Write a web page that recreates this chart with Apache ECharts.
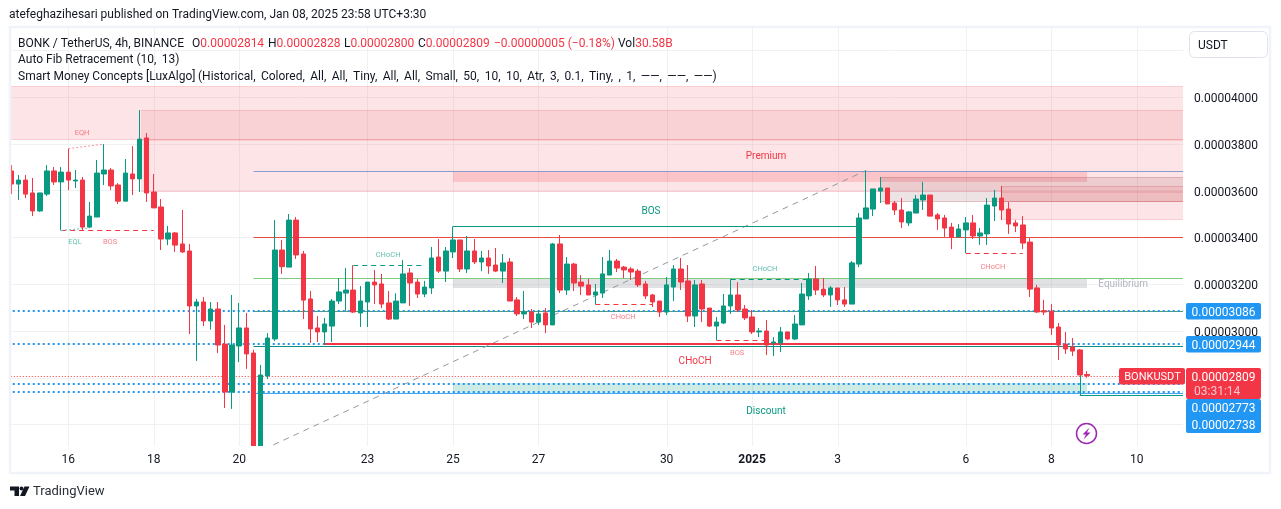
<!DOCTYPE html>
<html><head><meta charset="utf-8">
<style>html,body{margin:0;padding:0;background:#fff}#c{width:1281px;height:509px}</style>
<script src="https://cdn.jsdelivr.net/npm/echarts@6/dist/echarts.min.js"></script></head>
<body><div id="c"></div>
<script>
// prices are in units of 0.00000001 USDT
const opens=[3684,3628,3645,3590,3513,3585,3684,3637,3679,3641,
3645,3444,3487,3671,3688,3624,3555,3671,3650,3825,
3594,3530,3393,3419,3372,3342,3107,3124,3043,3094,
2944,2739,2936,3013,2906,2490,2808,2966,3346,3273,
3474,3329,3137,3013,2996,3021,3128,3162,3175,3077,
3124,3209,3201,3120,3051,3120,3248,3209,3158,3184,
3316,3256,3338,3389,3265,3342,3295,3312,3282,3256,
3295,3133,3073,3081,3038,3077,3026,3372,3175,3286,
3209,3197,3154,3162,3239,3299,3273,3265,3256,3201,
3154,3128,3081,3188,3265,3214,3064,3201,3098,3021,
3034,3107,3154,3094,3060,2996,3000,2949,2949,2996,
2966,3026,3150,3222,3179,3154,3184,3133,3115,3286,
3479,3521,3598,3611,3547,3517,3462,3504,3560,3581,
3496,3483,3444,3402,3432,3462,3406,3415,3534,3568,
3521,3462,3453,3380,3184,3087,3085,3017,2944,2932,
2919,2814];
const closes=[3628,3645,3585,3513,3590,3684,3637,3679,3645,3645,
3444,3491,3675,3688,3620,3555,3675,3650,3820,3590,
3526,3393,3419,3367,3338,3107,3124,3043,3094,2940,
2739,2940,3013,2902,2490,2812,2970,3346,3275,3474,
3325,3132,3009,2996,3030,3128,3167,3175,3081,3128,
3209,3197,3115,3051,3128,3244,3205,3158,3188,3312,
3256,3342,3389,3265,3342,3295,3312,3278,3256,3291,
3128,3073,3081,3038,3073,3026,3372,3175,3286,3205,
3192,3154,3167,3244,3299,3269,3261,3252,3197,3150,
3124,3081,3197,3265,3209,3064,3197,3094,3021,3038,
3107,3154,3090,3056,2996,3000,2940,2953,2996,2966,
3030,3158,3222,3175,3154,3184,3133,3115,3291,3483,
3526,3607,3611,3543,3517,3466,3509,3564,3581,3491,
3479,3440,3402,3436,3462,3406,3419,3538,3568,3517,
3457,3449,3376,3179,3081,3081,3013,2940,2923,2914,
2812,2809];
const highs=[3709,3667,3667,3654,3590,3709,3701,3701,3779,3688,
3658,3551,3731,3799,3697,3632,3735,3790,3944,3846,
3671,3564,3449,3423,3517,3372,3137,3145,3124,3124,
3026,3154,3120,3077,2920,2855,2991,3474,3389,3500,
3487,3342,3171,3064,3056,3137,3226,3269,3281,3192,
3209,3261,3244,3171,3161,3303,3269,3222,3214,3359,
3393,3359,3447,3389,3406,3393,3342,3346,3355,3329,
3312,3145,3171,3094,3090,3098,3376,3410,3316,3291,
3239,3222,3201,3316,3346,3308,3278,3273,3265,3214,
3158,3128,3231,3282,3312,3282,3218,3218,3098,3060,
3158,3222,3209,3111,3090,3013,3047,2974,3017,2996,
3068,3205,3248,3278,3226,3192,3184,3188,3299,3504,
3686,3607,3658,3611,3556,3568,3513,3581,3637,3581,
3504,3496,3462,3457,3487,3496,3440,3568,3603,3620,
3551,3474,3491,3397,3197,3133,3115,3034,2996,2970,
2923,2828];
const lows=[3585,3560,3568,3491,3509,3577,3624,3430,3602,3611,
3432,3440,3487,3624,3602,3543,3555,3581,3594,3551,
3526,3346,3367,3338,3333,2987,2872,3021,3006,2906,
2671,2667,2867,2838,2474,2474,2795,2957,3244,3273,
3308,3051,2949,2953,2940,2953,3115,3086,3077,3017,
3017,3115,3098,3047,3051,3120,3107,3141,3145,3158,
3248,3209,3312,3252,3248,3286,3256,3244,3252,3205,
3128,3064,3051,3013,3026,2991,3026,3162,3154,3171,
3154,3154,3114,3141,3239,3252,3226,3218,3188,3137,
3103,3060,3068,3128,3175,3038,3017,3038,3017,2961,
3030,3073,3081,3047,2987,2974,2897,2893,2910,2961,
2961,3026,3133,3154,3145,3103,3111,3103,3115,3273,
3479,3491,3547,3543,3496,3440,3449,3504,3517,3491,
3432,3402,3350,3402,3333,3393,3368,3368,3470,3474,
3415,3423,3350,3145,3077,3068,2983,2876,2902,2893,
2812,2800];

const tickIndexes=[8,20,32,50,62,74,92,104,116,134,146,158];
const tickLabels=['16','18','20','23','25','27','30','2025','3','6','8','10'];
const barSlots=165;
const categories=Array.from({length:barSlots},(_,i)=>{const k=tickIndexes.indexOf(i);return k>=0?tickLabels[k]:String(i);});

const axisPrices=[3000,3200,3400,3600,3800,4000];

// zones: [startIndex, price top, endIndex, price bottom]
const premiumZones=[[-0.5,4047,164.5,3818],[18.2,3818,164.5,3595],[139,3595,164.5,3476]];
const premiumCore=[[18.2,3943,164.5,3818]];
const premiumFib=[[62,3685,151,3638]];
const orderBlockWide=[[122,3657,164.5,3550]];
const orderBlockNarrow=[[139,3620,164.5,3550]];
const equilibriumZone=[[62,3222,151,3184]];
const discountZone=[[62,2778,151,2731]];

const fibStart=34, fibEnd=164.5;
const fibLevels=[3685,3400,3225,3084,2938,2733];
const fibDiagonal=[[34,2474,120,3686]];
const livePrices=[3086,2944,2773,2738];
const lastPrice=2809;
// structure: [startIndex, price, endIndex, price]
const bosGreen=[[62,3447,119,3447]];
const chochRedSolid=[[44,2943,147,2943]];
const dashedRed=[[7,3430,20,3430],[82,3114,90,3114],[99,2961,106,2961],[134,3332,142,3332]];
const dashedGreen=[[48,3281,58,3281],[101,3221,112,3221]];
const eqhDotted=[[8,3779,13,3799]];
const eqlDotted=[[7,3430,11,3440]];
const lowGuide=[[150,2812,150,2725],[150,2725,164.5,2725]];

const bigLabels=[[105.95,3752,'Premium'],[105.95,2662,'Discount']];
const labelTexts={
  redSmall:[[9.93,3850,'EQH'],[13.86,3385,'BOS'],[85.9,3064,'CHoCH'],[101.9,2910,'BOS'],[137.8,3278,'CHoCH']],
  greenSmall:[[8.95,3385,'EQL'],[52.9,3329,'CHoCH'],[105.8,3269,'CHoCH']],
  greenBig:[[89.8,3513,'BOS']],
  redBig:[[96,2876,'CHoCH']],
  grey:[[156.1,3205,'Equilibrium']]
};

const RED='#F23645',GREEN='#089981',BLUE='#2196F3',INK='#131722',FONT='Roboto, sans-serif';

function rectSeries(name,data,fill,stroke,z){
  return {type:'custom',name,xAxisIndex:1,yAxisIndex:0,z,clip:true,silent:true,data,encode:{x:[0,2],y:[1,3]},
    renderItem(p,api){
      const a=api.coord([api.value(0),api.value(1)]),b=api.coord([api.value(2),api.value(3)]);
      const x=Math.round(a[0]),y=Math.round(a[1]),w=Math.round(b[0])-x,h=Math.round(b[1])-y;
      const kids=[{type:'rect',shape:{x,y,width:w,height:h},style:{fill}}];
      if(stroke){kids.push({type:'line',shape:{x1:x,y1:y+.5,x2:x+w,y2:y+.5},style:{stroke,lineWidth:1}});
        kids.push({type:'line',shape:{x1:x,y1:y+h-.5,x2:x+w,y2:y+h-.5},style:{stroke,lineWidth:1}});}
      return {type:'group',children:kids};
    }};
}
function lineSeries(name,data,stroke,lineWidth,dash,z){
  return {type:'custom',name,xAxisIndex:1,yAxisIndex:0,z,clip:true,silent:true,data,encode:{x:[0,2],y:[1,3]},
    renderItem(p,api){
      const a=api.coord([api.value(0),api.value(1)]),b=api.coord([api.value(2),api.value(3)]);
      const s=v=>Math.round(v)+(lineWidth%2?.5:0);
      const flatY=api.value(1)===api.value(3),flatX=api.value(0)===api.value(2);
      return {type:'line',shape:{x1:flatX?s(a[0]):a[0],y1:flatY?s(a[1]):a[1],x2:flatX?s(b[0]):b[0],y2:flatY?s(b[1]):b[1]},
        style:{stroke,lineWidth,lineDash:dash||null}};
    }};
}
function textSeries(name,rows,fill,font,opacity){
  return {type:'custom',name,xAxisIndex:1,yAxisIndex:0,z:6,clip:false,silent:true,
    data:rows.map(r=>[r[0],r[1]]),encode:{x:0,y:1},
    renderItem(p,api){
      const c=api.coord([api.value(0),api.value(1)]);
      return {type:'text',x:c[0],y:c[1]+1,style:{text:rows[p.dataIndex][2],fill,font,align:'center',verticalAlign:'middle',opacity:opacity||1}};
    }};
}
const fibRows=fibLevels.map(v=>[fibStart,v,fibEnd,v]);
const fibColors=['#8C9BCC','#EF4B45','#7FCB7F','#5C9E5C','#0E8F84','#42A5F5'];
const gridTimes=tickIndexes.map(i=>[i,2400,i,4300]);

const series=[
  lineSeries('timeGrid',gridTimes,'#F0F1F3',1,null,1),
  rectSeries('premium',premiumZones,'rgba(242,54,69,0.13)','rgba(242,54,69,0.14)',1.1),
  rectSeries('premiumCore',premiumCore,'rgba(210,50,60,0.10)','rgba(242,54,69,0.16)',1.2),
  rectSeries('premiumFib',premiumFib,'rgba(247,82,95,0.22)',null,1.3),
  rectSeries('orderBlockWide',orderBlockWide,'rgba(120,40,50,0.13)','rgba(178,40,51,0.2)',1.4),
  rectSeries('orderBlockNarrow',orderBlockNarrow,'rgba(242,54,69,0.1)','rgba(178,40,51,0.16)',1.45),
  rectSeries('equilibrium',equilibriumZone,'rgba(120,123,134,0.22)',null,1.3),
  rectSeries('discount',discountZone,'rgba(8,153,129,0.2)',null,1.3),
  ...fibRows.map((r,i)=>lineSeries('fib'+i,[r],fibColors[i],1,null,1.6)),
  lineSeries('fibDiagonal',fibDiagonal,'#9598A1',1,[6,5],1.6),
  ...livePrices.map(v=>lineSeries('live'+v,[[-0.5,v,164.5,v]],BLUE,2,[2,3],1.7)),
  lineSeries('last',[[-0.5,lastPrice,164.5,lastPrice]],RED,1,[1,2],1.7),
  lineSeries('bos',bosGreen,GREEN,1,null,1.8),
  lineSeries('chochSolid',chochRedSolid,RED,2,null,1.8),
  lineSeries('dashedRed',dashedRed,RED,1,[5,4],1.8),
  lineSeries('dashedGreen',dashedGreen,GREEN,1,[5,4],1.8),
  lineSeries('eqh',eqhDotted,'#F7939C',1,[2,2],1.8),
  lineSeries('eql',eqlDotted,'#6FC4B6',1,[2,2],1.8),
  lineSeries('lowGuide',lowGuide,GREEN,1,null,1.8),
  {type:'candlestick',name:'BONKUSDT',xAxisIndex:0,yAxisIndex:0,z:3,barWidth:5,silent:true,
   data:opens.map((o,i)=>[o,closes[i],lows[i],highs[i]]),
   itemStyle:{color:GREEN,color0:RED,borderColor:GREEN,borderColor0:RED,borderWidth:1}},
  textSeries('big',bigLabels.slice(0,1),RED,'10px '+FONT),
  textSeries('disc',bigLabels.slice(1),GREEN,'10px '+FONT),
  textSeries('redSmall',labelTexts.redSmall,RED,'7.5px '+FONT,0.65),
  textSeries('greenSmall',labelTexts.greenSmall,GREEN,'7.5px '+FONT,0.65),
  textSeries('greenBig',labelTexts.greenBig,GREEN,'10px '+FONT),
  textSeries('redBig',labelTexts.redBig,RED,'10px '+FONT),
  textSeries('grey',labelTexts.grey,'#B2B5BE','10px '+FONT)
];

const legendRow1=[[18,[['k','BONK / TetherUS, 4h, BINANCE']]],[192,[['k','O'],['v','0.00002814']]],[268,[['k','H'],['v','0.00002828']]],
 [344,[['k','L'],['v','0.00002800']]],[418,[['k','C'],['v','0.00002809']]],[494,[['v','\u22120.00000005 (\u22120.18%)']]],[618,[['k','Vol'],['v','30.58B']]]];
const headerText='atefeghazihesari published on TradingView.com, Jan 08, 2025 23:58 UTC+3:30';
const legendRow2='Auto Fib Retracement (10,\u2009 13)';
const legendRow3a='Smart Money Concepts [LuxAlgo] ';
const legendRow3b='(Historical, Colored, All, All, Tiny, All, All, Small, 50, 10, 10, Atr, 3, 0.1, Tiny, , 1, \u2014\u2014, \u2014\u2014, \u2014\u2014)'.replace(/, /g,',\u2009 ');

function txt(x,y,text,fill,font,z,align,extra){return Object.assign({type:'text',x,y,z:z||22,silent:true,style:{text,fill:fill||INK,font:font||('12px '+FONT),align:align||'left',verticalAlign:'middle'}},extra||{});}
function tag(x,y,w,h,fill,z){return {type:'rect',x,y,z:z||20,silent:true,shape:{x:0,y:0,width:w,height:h,r:2},style:{fill}};}

const graphics=[
  {type:'rect',x:0,y:0,z:5,silent:true,shape:{width:10,height:480},style:{fill:'#fff'}},
  {type:'rect',x:10,y:446,z:5,silent:true,shape:{width:1180,height:28},style:{fill:'#fff'}},
  {type:'rect',x:10,y:27,z:15,silent:true,shape:{width:1260,height:446},style:{fill:'none',stroke:'#F0F3FA',lineWidth:2.5}},
  txt(9,15,headerText),
  ...legendRow1.map(r=>({type:'text',x:r[0],y:43.5,z:22,silent:true,style:{
      text:r[1].map(p=>'{'+p[0]+'|'+p[1]+'}').join(''),verticalAlign:'middle',font:'12px '+FONT,
      rich:{k:{fill:INK,font:'12px '+FONT},v:{fill:RED,font:'12px '+FONT}}}})),
  txt(18,60,legendRow2),
  txt(18,77,legendRow3a),
  txt(198,77,legendRow3b),
  {type:'rect',x:1189.5,y:31.5,z:20,silent:true,shape:{width:78,height:26,r:5},style:{fill:'#fff',stroke:'#E0E3EB',lineWidth:1}},
  txt(1198,45.5,'USDT'),
  tag(1186,303,75,16.5,BLUE),txt(1223.5,312.5,'0.00003086','#fff',null,22,'center'),
  tag(1186,336,75,16.5,BLUE),txt(1223.5,345.5,'0.00002944','#fff',null,22,'center'),
  tag(1119,368,66,16.5,RED),txt(1152.5,377.5,'BONKUSDT','#fff','11px '+FONT,22,'center'),
  tag(1186,368,75,31,RED),txt(1223.5,377.5,'0.00002809','#fff',null,22,'center'),txt(1194,392,'03:31:14','#FBC4C9'),
  tag(1186,399,75,34,BLUE),txt(1223.5,408.5,'0.00002773','#fff',null,22,'center'),txt(1223.5,425.5,'0.00002738','#fff',null,22,'center'),
  {type:'circle',x:1086.5,y:433.5,z:20,silent:true,shape:{r:10},style:{fill:'#fff',stroke:'#9C27B0',lineWidth:1.5}},
  {type:'polygon',x:0,y:0,z:21,silent:true,shape:{points:[[1089.5,427.5],[1082.5,434.5],[1086,434.5],[1083.5,439.5],[1090.5,432.5],[1087,432.5]]},style:{fill:'#9C27B0'}},
  {type:'polygon',z:21,silent:true,shape:{points:[[10,486.5],[19,486.5],[19,496],[14.5,496],[14.5,490.5],[10,490.5]]},style:{fill:'#131722'}},
  {type:'circle',x:21.5,y:488.5,z:21,silent:true,shape:{r:2},style:{fill:'#131722'}},
  {type:'polygon',z:21,silent:true,shape:{points:[[24.5,486.5],[29.5,486.5],[25,496],[20,496]]},style:{fill:'#131722'}},
  txt(33,492,'TradingView','#2A2E39','13px '+FONT)
];

const option={
  animation:false,backgroundColor:'#fff',
  grid:{left:7.74,width:1175.3,top:26.8,height:444.6,containLabel:false,show:false},
  xAxis:[
    {type:'category',data:categories,boundaryGap:true,offset:-25.4,z:10,
     axisLine:{show:false},axisTick:{show:false},splitLine:{show:false},
     axisLabel:{show:true,margin:8,hideOverlap:false,interval:i=>tickIndexes.includes(i),color:INK,fontFamily:'Roboto, sans-serif',fontSize:12,
       formatter:v=>v==='2025'?'{b|2025}':v,rich:{b:{fontWeight:'bold',fontSize:12,color:INK,fontFamily:'Roboto, sans-serif'}}}},
    {type:'value',min:-0.5,max:164.5,show:false,splitLine:{show:false}}
  ],
  yAxis:[{type:'value',min:2400,max:4300,interval:200,position:'right',scale:true,
    axisLine:{show:false},axisTick:{show:false},
    splitLine:{show:true,lineStyle:{color:'#F0F1F3',width:1}},
    axisLabel:{margin:11,color:INK,fontFamily:'Roboto, sans-serif',fontSize:12,showMinLabel:true,showMaxLabel:true,
      rich:{p:{padding:[4,0,0,0],fontSize:12,color:INK,fontFamily:'Roboto, sans-serif'}},
      formatter:v=>axisPrices.includes(v)?'{p|'+(v/1e8).toFixed(8)+'}':''}}],
  series,
  graphic:{elements:graphics}
};
const chart=echarts.init(document.getElementById('c'),null,{renderer:'canvas',width:1281,height:509});
chart.setOption(option);
</script></body></html>
